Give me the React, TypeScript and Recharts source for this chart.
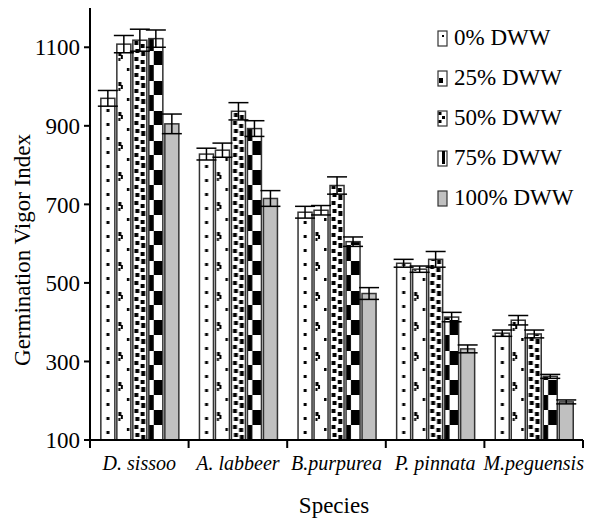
import React from 'react';
import { BarChart, Bar, XAxis, YAxis, ErrorBar, Legend } from 'recharts';

const species = ['D. sissoo', 'A. labbeer', 'B.purpurea', 'P. pinnata', 'M.peguensis'];
const seriesNames = ['0% DWW', '25% DWW', '50% DWW', '75% DWW', '100% DWW'];

const dww0 = [970, 828, 680, 550, 372];
const dww25 = [1108, 838, 685, 535, 405];
const dww50 = [1118, 937, 748, 560, 370];
const dww75 = [1122, 893, 605, 413, 262];
const dww100 = [905, 715, 473, 332, 197];

const err0 = [20, 15, 15, 10, 8];
const err25 = [22, 18, 12, 8, 12];
const err50 = [28, 22, 22, 20, 10];
const err75 = [22, 20, 12, 12, 5];
const err100 = [25, 20, 15, 10, 5];

const yTicks = [100, 300, 500, 700, 900, 1100];

const data = species.map((name, i) => ({
  name,
  v0: dww0[i], e0: err0[i],
  v25: dww25[i], e25: err25[i],
  v50: dww50[i], e50: err50[i],
  v75: dww75[i], e75: err75[i],
  v100: dww100[i], e100: err100[i],
}));

const W = 591;
const H = 519;
const M = { top: 8, right: 8, left: 0, bottom: 0 };
const Y_W = 90;
const BAND = (W - M.left - M.right - Y_W) / species.length;
const serif = '"Liberation Serif", "Times New Roman", serif';
const BORDER = '#333';

// pattern bodies, drawn in a tile that is as wide as the bar
function tile(kind: string, w: number) {
  if (kind === 'v0') {
    return { h: 14, els: [<rect key="a" x={w * 0.4} y={5} width={3} height={3} fill="#000" />] };
  }
  if (kind === 'v25') {
    return {
      h: 30,
      els: [
        <rect key="a" x={1.5} y={2} width={3} height={4} fill="#000" />,
        <rect key="b" x={4} y={5} width={2} height={4} fill="#000" />,
        <rect key="c" x={1.5} y={8} width={2} height={3} fill="#000" />,
        <rect key="d" x={w - 4} y={18} width={2.5} height={3} fill="#000" />,
      ],
    };
  }
  if (kind === 'v50') {
    return {
      h: 16,
      els: [
        <rect key="a" x={1.5} y={1} width={4} height={4} fill="#000" />,
        <rect key="b" x={w * 0.55} y={4} width={4} height={4} fill="#000" />,
        <rect key="c" x={2.5} y={9} width={4} height={4} fill="#000" />,
        <rect key="d" x={w * 0.6} y={11} width={4} height={5} fill="#000" />,
      ],
    };
  }
  // 75%: checkerboard
  return {
    h: 30,
    els: [
      <rect key="a" x={w * 0.35} y={0} width={w * 0.65} height={15} fill="#000" />,
      <rect key="b" x={0} y={15} width={w * 0.35} height={15} fill="#000" />,
    ],
  };
}

function makeShape(kind: string) {
  return (props: any) => {
    const { x, y, width, height, index } = props;
    if (!height || height <= 0) return <g />;
    if (kind === 'v100') {
      return <rect x={x} y={y} width={width} height={height} fill="#c0c0c0" stroke={BORDER} strokeWidth={1.5} />;
    }
    const id = `pat-${kind}-${index}`;
    const t = tile(kind, width);
    return (
      <g>
        <defs>
          <pattern id={id} patternUnits="userSpaceOnUse" x={x} y={y + height} width={width} height={t.h}>
            <rect x={0} y={0} width={width} height={t.h} fill="#fff" />
            {t.els}
          </pattern>
        </defs>
        <rect x={x} y={y} width={width} height={height} fill={`url(#${id})`} stroke={BORDER} strokeWidth={1.5} />
      </g>
    );
  };
}

const keys = ['v0', 'v25', 'v50', 'v75', 'v100'];

function Swatch({ kind }: { kind: string }) {
  const w = 9;
  const h = 15;
  let inner: React.ReactNode = null;
  let fill = '#fff';
  if (kind === 'v0') inner = <rect x={5} y={5} width={2} height={2} fill="#000" />;
  if (kind === 'v25') inner = <rect x={2} y={8} width={4} height={5} fill="#000" />;
  if (kind === 'v50') inner = (
    <g>
      <rect x={1.5} y={2} width={3} height={3} fill="#000" />
      <rect x={5} y={6} width={3} height={3} fill="#000" />
      <rect x={1.5} y={10} width={3} height={3} fill="#000" />
    </g>
  );
  if (kind === 'v75') inner = <rect x={5} y={1} width={3} height={13} fill="#000" />;
  if (kind === 'v100') fill = '#c0c0c0';
  return (
    <svg width={w + 2} height={h + 2} style={{ display: 'block' }}>
      <rect x={1} y={1} width={w} height={h} fill={fill} stroke={BORDER} strokeWidth={1.2} />
      {inner}
    </svg>
  );
}

const renderLegend = () => (
  <div style={{ fontFamily: serif, fontSize: 23, color: '#000' }}>
    {keys.map((k, i) => (
      <div key={k} style={{ display: 'flex', alignItems: 'center', height: 40 }}>
        <Swatch kind={k} />
        <span style={{ marginLeft: 6 }}>{seriesNames[i]}</span>
      </div>
    ))}
  </div>
);

const CatTick = (props: any) => {
  const { x, y, payload, index } = props;
  return (
    <g>
      <line x1={x - BAND / 2} x2={x - BAND / 2} y1={y - 8} y2={y} stroke="#000" strokeWidth={2} />
      {index === species.length - 1 && (
        <line x1={x + BAND / 2} x2={x + BAND / 2} y1={y - 8} y2={y} stroke="#000" strokeWidth={2} />
      )}
      <text x={x} y={y + 22} textAnchor="middle" fontFamily={serif} fontStyle="italic" fontSize={20} fill="#000">
        {payload.value}
      </text>
    </g>
  );
};

const YLabel = () => (
  <text x={30} y={250} transform="rotate(-90, 30, 250)" textAnchor="middle" fontFamily={serif} fontSize={23} fill="#000">
    Germination Vigor Index
  </text>
);

const XLabel = () => (
  <text x={334} y={513} textAnchor="middle" fontFamily={serif} fontSize={23} fill="#000">
    Species
  </text>
);

export default function App() {
  return (
    <div style={{ position: 'absolute', left: 0, top: 0, width: W, height: H, background: '#fff' }}>
      <BarChart width={W} height={H} data={data} margin={M} barCategoryGap="11%" barGap={2}>
        <XAxis
          dataKey="name"
          height={79}
          axisLine={{ stroke: '#000', strokeWidth: 2 }}
          tickLine={false}
          tick={<CatTick />}
          tickSize={8}
          tickMargin={0}
          interval={0}
          label={{ content: <XLabel /> }}
        />
        <YAxis
          width={Y_W}
          domain={[100, 1200]}
          ticks={yTicks}
          allowDataOverflow
          axisLine={{ stroke: '#000', strokeWidth: 2 }}
          tickLine={{ stroke: '#000', strokeWidth: 2 }}
          tickSize={6}
          tickMargin={4}
          tick={{ fontFamily: serif, fontSize: 23, fill: '#000' }}
          label={{ content: <YLabel /> }}
        />
        <Legend
          layout="vertical"
          verticalAlign="middle"
          align="center"
          content={renderLegend}
          wrapperStyle={{ position: 'absolute', top: 18, left: 437, width: 154 }}
        />
        {keys.map((k, i) => (
          <Bar
            key={k}
            dataKey={k}
            name={seriesNames[i]}
            shape={makeShape(k)}
            isAnimationActive={false}
          >
            <ErrorBar dataKey={'e' + k.slice(1)} width={10} stroke="#000" strokeWidth={1.5} />
          </Bar>
        ))}
      </BarChart>
    </div>
  );
}
